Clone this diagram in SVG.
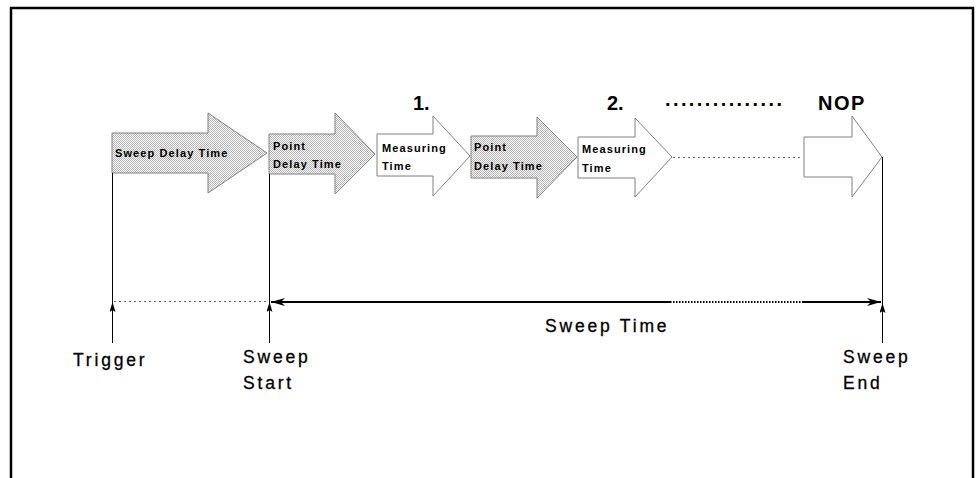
<svg xmlns="http://www.w3.org/2000/svg" width="977" height="478" viewBox="0 0 977 478">
<style>
.arr{stroke:#808080;stroke-width:1;stroke-linejoin:miter}
.sh{fill:url(#stip)}
.wh{fill:#fff}
.lbl{font-family:"Liberation Sans",Arial,sans-serif;font-weight:bold;font-size:11px;letter-spacing:1.1px;fill:#000}
.big{font-family:"Liberation Sans",Arial,sans-serif;font-weight:bold;font-size:20px;fill:#000}
.txt{font-family:"Liberation Sans",Arial,sans-serif;font-size:17.5px;letter-spacing:2.8px;fill:#000;stroke:#000;stroke-width:0.3px}
.ln{stroke:#000;stroke-width:1;fill:none}
.dot{stroke:#666;stroke-width:1;stroke-dasharray:2 3;fill:none}
</style>
<defs>
<pattern id="stip" width="2" height="2" patternUnits="userSpaceOnUse">
<rect width="2" height="2" fill="#ffffff"/>
<rect width="1" height="1" fill="#b4b4b4"/>
<rect x="1" y="1" width="1" height="1" fill="#b4b4b4"/>
</pattern>
<marker id="up" markerWidth="10" markerHeight="6" refX="10" refY="3" orient="auto" markerUnits="userSpaceOnUse" viewBox="0 0 10 6">
<path d="M0,0 L10,3 L0,6 L2,3 Z" fill="#000"/>
</marker>
<marker id="ah" markerWidth="14" markerHeight="8" refX="14" refY="4" orient="auto-start-reverse" markerUnits="userSpaceOnUse" viewBox="0 0 14 8">
<path d="M0,0 L14,4 L0,8 L4,4 Z" fill="#000"/>
</marker>
</defs>
<rect width="977" height="478" fill="#fff"/>
<path d="M11,478 V8 H973 V478" fill="none" stroke="#000" stroke-width="2.5"/>

<g id="sweep-delay">
<path class="arr sh" d="M112,133 H208 V113 L267,153 L208,193 V173 H112 Z"/>
<text class="lbl" x="115" y="157">Sweep Delay Time</text>
</g>
<g id="point-delay-1">
<path class="arr sh" d="M269,134 H335 V113 L375,154 L335,194 V174 H269 Z"/>
<text class="lbl" x="273" y="150">Point</text>
<text class="lbl" x="273" y="168">Delay Time</text>
</g>
<g id="measuring-1">
<path class="arr wh" d="M377,134 H433 V116 L470,156 L433,196 V176 H377 Z"/>
<text class="lbl" x="382" y="152">Measuring</text>
<text class="lbl" x="382" y="170">Time</text>
</g>
<g id="point-delay-2">
<path class="arr sh" d="M471,136 H537 V117 L577,157 L537,198 V178 H471 Z"/>
<text class="lbl" x="474" y="151">Point</text>
<text class="lbl" x="474" y="170">Delay Time</text>
</g>
<g id="measuring-2">
<path class="arr wh" d="M578,137 H635 V118 L672,157 L635,197 V178 H578 Z"/>
<text class="lbl" x="582" y="153">Measuring</text>
<text class="lbl" x="582" y="172">Time</text>
</g>
<g id="nop">
<path class="arr wh" d="M804,137 H852 V116 L882,157 L852,197 V177 H804 Z"/>
</g>

<g id="labels">
<text class="big" x="413" y="110">1.</text>
<text class="big" x="607" y="110">2.</text>
<text class="big" x="665" y="106" letter-spacing="2.4">...............</text>
<text class="big" x="818" y="110" letter-spacing="1.5">NOP</text>
<text class="txt" x="545" y="332">Sweep Time</text>
<text class="txt" x="73" y="366">Trigger</text>
<text class="txt" x="243" y="363">Sweep</text>
<text class="txt" x="243" y="389">Start</text>
<text class="txt" x="843" y="363">Sweep</text>
<text class="txt" x="843" y="389">End</text>
</g>

<g id="connectors">
<line class="ln" x1="112.5" y1="173" x2="112.5" y2="343"/>
<line class="ln" x1="112.5" y1="343" x2="112.5" y2="302" marker-end="url(#up)"/>
<line class="ln" x1="269.5" y1="174" x2="269.5" y2="343"/>
<line class="ln" x1="269.5" y1="343" x2="269.5" y2="302" marker-end="url(#up)"/>
<line class="ln" x1="882.5" y1="157" x2="882.5" y2="343"/>
<line class="ln" x1="882.5" y1="343" x2="882.5" y2="303" marker-end="url(#up)"/>
<line class="dot" x1="114" y1="301.5" x2="268" y2="301.5"/>
<line stroke="#000" stroke-width="2" x1="271" y1="302" x2="670" y2="302" marker-start="url(#ah)"/>
<line stroke="#000" stroke-width="2" stroke-dasharray="1.5 1.5" x1="670" y1="302" x2="802" y2="302"/>
<line stroke="#000" stroke-width="2" x1="802" y1="302" x2="881" y2="302" marker-end="url(#ah)"/>
<line class="dot" x1="673" y1="157.5" x2="803" y2="157.5"/>
</g>
</svg>
